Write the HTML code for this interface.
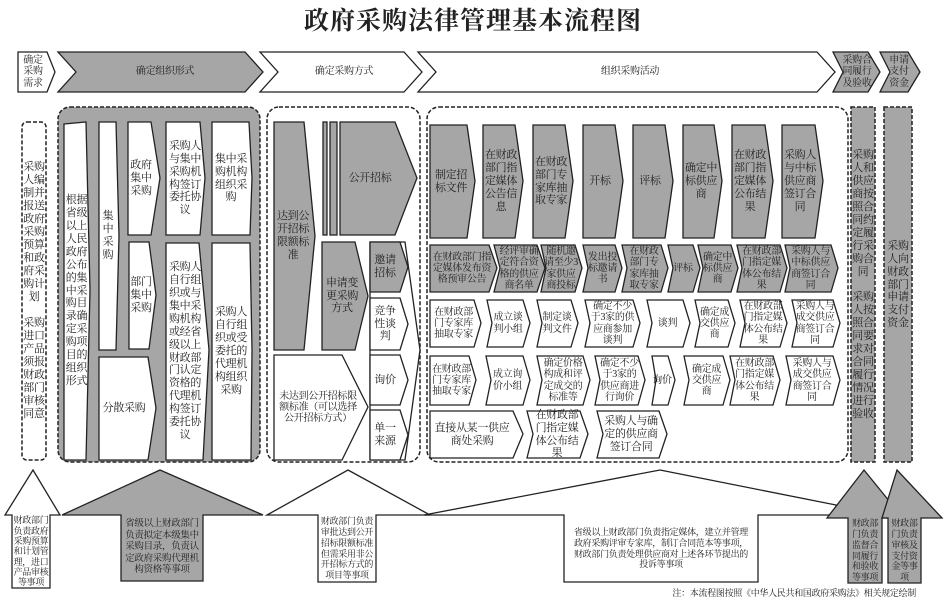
<!DOCTYPE html>
<html><head><meta charset="utf-8">
<style>
body{margin:0;width:946px;height:608px;background:#fff;position:relative;overflow:hidden;font-family:"Liberation Serif","Noto Serif CJK SC","Noto Sans CJK SC",serif;color:#222}
svg{position:absolute;left:0;top:0}
.t{position:absolute;display:flex;align-items:center;justify-content:center;text-align:center;font-size:11px;line-height:1.18;color:#222;word-break:break-all;letter-spacing:-0.3px}
.s{font-size:10px;line-height:1.12}
.x{font-size:9px;line-height:1.22}
</style></head><body>
<svg width="946" height="608" viewBox="0 0 946 608">
<g stroke="#222" stroke-width="1.3" stroke-linejoin="miter">
<polygon fill="#fff" points="18,52 47,52 55,72 47,92 18,92"/>
<polygon fill="#a6a6a6" points="58,52 245,52 263,72 245,92 58,92 76,72"/>
<polygon fill="#fff" points="260,52 404,52 422,72 404,92 260,92 278,72"/>
<polygon fill="#fff" points="418,52 817,52 835,72 817,92 418,92 436,72"/>
<polygon fill="#a6a6a6" points="833,52 868,52 880,72 868,92 833,92 843,72"/>
<polygon fill="#a6a6a6" points="880,52 908,52 920,72 908,92 880,92 890,72"/>
</g>
<g fill="none" stroke="#222" stroke-width="1.5" stroke-dasharray="4,2">
<rect x="22" y="122" width="24" height="338" rx="5"/>
<rect x="58" y="107" width="202" height="355" rx="12" fill="#a6a6a6"/>
<rect x="267" y="107" width="153" height="355" rx="12"/>
<rect x="427" y="107" width="421" height="355" rx="12"/>
<rect x="851" y="107" width="24" height="355" fill="#a6a6a6"/>
<rect x="884" y="107" width="28" height="355" fill="#a6a6a6"/>
</g>
<g stroke="#222" stroke-width="1.3">
<polygon fill="#fff" points="64,124 86,122 90,290 86,460 64,460"/>
<polygon fill="#fff" points="99,122 116,122 119,236 116,350 99,350"/>
<polygon fill="#fff" points="99,357 148,357 156,408 148,460 99,460"/>
<polygon fill="#fff" points="128,122 151,122 160,178 151,235 128,235"/>
<polygon fill="#fff" points="129,242 149,242 156,295 149,349 129,349"/>
<polygon fill="#fff" points="166,122 200,122 205,178 200,235 166,235"/>
<polygon fill="#fff" points="166,243 199,243 209,350 203,460 166,460"/>
<polygon fill="#fff" points="212,122 249,122 252,178 250,235 212,235"/>
<polygon fill="#fff" points="212,243 250,243 252,350 251,460 212,460"/>
<polygon fill="#a6a6a6" points="274,122 304,122 315,236 304,350 274,350"/>
<rect x="323" y="122" width="4" height="113" fill="#a6a6a6"/>
<rect x="330" y="122" width="7" height="113" fill="#a6a6a6"/>
<polygon fill="#a6a6a6" points="340,122 395,122 417,178 395,235 340,235"/>
<polygon fill="#a6a6a6" points="322,242 355,242 368,296 355,350 322,350"/>
<polygon fill="#fff" points="370,242 405,242 420,350 405,460 370,460"/>
<polygon fill="#a6a6a6" points="370,242 400,242 408,267 400,292 370,292"/>
<polygon fill="#fff" points="370,298 400,298 408,324 400,350 370,350"/>
<polygon fill="#fff" points="370,355 400,355 408,380 400,405 370,405"/>
<polygon fill="#fff" points="370,410 400,410 408,435 400,460 370,460"/>
<polygon fill="#fff" points="274,355 342,355 368,407 342,460 274,460"/>
<g fill="#a6a6a6">
<polygon points="430,125 467,125 475,181 467,238 430,238"/>
<polygon points="483,125 515,125 523,181 515,238 483,238"/>
<polygon points="533,125 565,125 573,181 565,238 533,238"/>
<polygon points="583,125 615,125 623,181 615,238 583,238"/>
<polygon points="633,125 665,125 673,181 665,238 633,238"/>
<polygon points="683,125 714,125 722,181 714,238 683,238"/>
<polygon points="732,125 765,125 773,181 765,238 732,238"/>
<polygon points="782,125 815,125 823,181 815,238 782,238"/>
<polygon points="430,245 489,245 497,268 489,292 430,292"/>
<polygon points="494,245 537,245 545,268 537,292 494,292 500,268"/>
<polygon points="541,245 575,245 582,268 575,292 541,292 546,268"/>
<polygon points="583,245 615,245 622,268 615,292 583,292 588,268"/>
<polygon points="622,245 661,245 668,268 661,292 622,292 627,268"/>
<polygon points="668,245 693,245 700,268 693,292 668,292 673,268"/>
<polygon points="698,245 731,245 738,268 731,292 698,292 703,268"/>
<polygon points="737,245 780,245 787,268 780,292 737,292 742,268"/>
<polygon points="785,245 831,245 838,268 831,292 785,292 790,268"/>
</g>
<g fill="#fff">
<polygon points="430,300 474,300 481,323 474,347 430,347"/>
<polygon points="487,300 523,300 530,323 523,347 487,347 492,323"/>
<polygon points="537,300 571,300 578,323 571,347 537,347 542,323"/>
<polygon points="585,300 633,300 640,323 633,347 585,347 590,323"/>
<polygon points="647,300 683,300 690,323 683,347 647,347 652,323"/>
<polygon points="695,300 728,300 735,323 728,347 695,347 700,323"/>
<polygon points="740,300 780,300 787,323 780,347 740,347 745,323"/>
<polygon points="792,300 833,300 840,323 833,347 792,347 797,323"/>
<polygon points="430,356 469,356 476,380 469,405 430,405"/>
<polygon points="486,356 523,356 530,380 523,405 486,405 491,380"/>
<polygon points="537,356 583,356 590,380 583,405 537,405 542,380"/>
<polygon points="595,356 638,356 645,380 638,405 595,405 600,380"/>
<polygon points="652,356 668,356 675,380 668,405 652,405 656,380"/>
<polygon points="684,356 723,356 730,380 723,405 684,405 689,380"/>
<polygon points="730,356 773,356 780,380 773,405 730,405 735,380"/>
<polygon points="786,356 833,356 840,380 833,405 786,405 791,380"/>
<polygon points="430,411 513,411 523,434 513,458 430,458"/>
<polygon points="527,411 580,411 588,434 580,458 527,458 533,434"/>
<polygon points="597,411 659,411 667,434 659,458 597,458 603,434"/>
</g>
<polygon fill="#fff" points="33,470 60,515 50,515 50,588 12,588 12,515 5,515"/>
<polygon fill="#a6a6a6" points="160,470 263,515 203,515 203,581 121,581 121,515 62,515"/>
<polygon fill="#fff" points="348,470 430,515 376,515 376,582 318,582 318,515 267,515"/>
<polygon fill="#fff" points="660,470 836,505 836,515 758,515 758,582 564,582 564,515 424,515"/>
<polygon fill="#a6a6a6" points="864,470 903,518 882,518 882,583 848,583 848,518 827,518"/>
<polygon fill="#a6a6a6" points="897,470 942,518 921,518 921,583 888,583 888,518 882,518"/>
</g>
</svg>
<div class="t" style="left:0;top:4px;width:946px;height:36px;font-size:25px;font-weight:bold;letter-spacing:1px">政府采购法律管理基本流程图</div>
<div class="t s" style="left:18px;top:52px;width:30px;height:40px"><span>确定<br>采购<br>需求</span></div>
<div class="t s" style="left:80px;top:52px;width:170px;height:40px">确定组织形式</div>
<div class="t s" style="left:280px;top:52px;width:128px;height:40px">确定采购方式</div>
<div class="t s" style="left:440px;top:52px;width:380px;height:40px">组织采购活动</div>
<div class="t s" style="left:840px;top:52px;width:34px;height:40px"><span>采购合<br>同履行<br>及验收</span></div>
<div class="t s" style="left:886px;top:52px;width:26px;height:40px"><span>申请<br>支付<br>资金</span></div>

<div class="t" style="left:21px;top:124px;width:26px;height:334px">采购人编制并报送政府采购预算和政府采购计划<br><br>采购进口产品须报财政部门审核同意</div>
<div class="t" style="left:63px;top:124px;width:27px;height:334px">根据省级以上人民政府公布的集中采购目录确定采购项目的组织形式</div>
<div class="t" style="left:98px;top:122px;width:20px;height:228px">集中采购</div>
<div class="t" style="left:100px;top:357px;width:48px;height:103px">分散采购</div>
<div class="t" style="left:127px;top:122px;width:28px;height:113px">政府集中采购</div>
<div class="t" style="left:128px;top:242px;width:26px;height:107px">部门集中采购</div>
<div class="t" style="left:165px;top:122px;width:40px;height:113px">采购人与集中采购机构签订委托协议</div>
<div class="t" style="left:165px;top:243px;width:40px;height:217px">采购人自行组织或与集中采购机构或经省级以上财政部门认定资格的代理机构签订委托协议</div>
<div class="t" style="left:211px;top:122px;width:40px;height:113px">集中采购机构组织采购</div>
<div class="t" style="left:211px;top:243px;width:40px;height:217px">采购人自行组织或受委托的代理机构组织采购</div>

<div class="t" style="left:274px;top:122px;width:38px;height:228px">达到公开招标限额标准</div>
<div class="t" style="left:340px;top:122px;width:60px;height:113px">公开招标</div>
<div class="t" style="left:322px;top:242px;width:40px;height:108px">申请变更采购方式</div>
<div class="t" style="left:370px;top:242px;width:30px;height:50px">邀请招标</div>
<div class="t" style="left:370px;top:298px;width:30px;height:52px">竞争性谈判</div>
<div class="t" style="left:370px;top:355px;width:30px;height:50px">询价</div>
<div class="t" style="left:370px;top:410px;width:30px;height:50px">单一来源</div>
<div class="t s" style="left:275px;top:355px;width:86px;height:105px">未达到公开招标限额标准（可以选择公开招标方式）</div>

<div class="t" style="left:430px;top:125px;width:42px;height:113px">制定招标文件</div>
<div class="t" style="left:482px;top:125px;width:38px;height:113px">在财政部门指定媒体公告信息</div>
<div class="t" style="left:532px;top:125px;width:38px;height:113px">在财政部门专家库抽取专家</div>
<div class="t" style="left:584px;top:125px;width:32px;height:113px">开标</div>
<div class="t" style="left:634px;top:125px;width:32px;height:113px">评标</div>
<div class="t" style="left:682px;top:125px;width:38px;height:113px">确定中标供应商</div>
<div class="t" style="left:731px;top:125px;width:38px;height:113px">在财政部门指定媒体公布结果</div>
<div class="t" style="left:781px;top:125px;width:38px;height:113px">采购人与中标供应商签订合同</div>

<div class="t s" style="left:431px;top:245px;width:62px;height:47px">在财政部门指定媒体发布资格预审公告</div>
<div class="t s" style="left:499px;top:245px;width:40px;height:47px">经评审确定符合资格的供应商名单</div>
<div class="t s" style="left:544px;top:245px;width:34px;height:47px">随机邀请至少3家供应商投标</div>
<div class="t s" style="left:587px;top:245px;width:31px;height:47px">发出投标邀请书</div>
<div class="t s" style="left:625px;top:245px;width:38px;height:47px">在财政部门专家库抽取专家</div>
<div class="t s" style="left:671px;top:245px;width:24px;height:47px">评标</div>
<div class="t s" style="left:701px;top:245px;width:33px;height:47px">确定中标供应商</div>
<div class="t s" style="left:740px;top:245px;width:43px;height:47px">在财政部门指定媒体公布结果</div>
<div class="t s" style="left:788px;top:245px;width:45px;height:47px">采购人与中标供应商签订合同</div>

<div class="t s" style="left:431px;top:300px;width:45px;height:47px">在财政部门专家库抽取专家</div>
<div class="t s" style="left:490px;top:300px;width:36px;height:47px">成立谈判小组</div>
<div class="t s" style="left:540px;top:300px;width:34px;height:47px">制定谈判文件</div>
<div class="t s" style="left:589px;top:300px;width:47px;height:47px">确定不少于3家的供应商参加谈判</div>
<div class="t s" style="left:651px;top:300px;width:33px;height:47px">谈判</div>
<div class="t s" style="left:698px;top:300px;width:33px;height:47px">确定成交供应商</div>
<div class="t s" style="left:743px;top:300px;width:40px;height:47px">在财政部门指定媒体公布结果</div>
<div class="t s" style="left:795px;top:300px;width:40px;height:47px">采购人与成交供应商签订合同</div>

<div class="t s" style="left:431px;top:356px;width:41px;height:49px">在财政部门专家库抽取专家</div>
<div class="t s" style="left:490px;top:356px;width:35px;height:49px">成立询价小组</div>
<div class="t s" style="left:540px;top:356px;width:46px;height:49px">确定价格构成和评定成交的标准等</div>
<div class="t s" style="left:598px;top:356px;width:43px;height:49px">确定不少于3家的供应商进行询价</div>
<div class="t s" style="left:652px;top:356px;width:20px;height:49px">询价</div>
<div class="t s" style="left:688px;top:356px;width:37px;height:49px">确定成交供应商</div>
<div class="t s" style="left:733px;top:356px;width:43px;height:49px">在财政部门指定媒体公布结果</div>
<div class="t s" style="left:789px;top:356px;width:46px;height:49px">采购人与成交供应商签订合同</div>

<div class="t" style="left:432px;top:411px;width:80px;height:47px">直接从某一供应商处采购</div>
<div class="t" style="left:531px;top:411px;width:52px;height:47px">在财政部门指定媒体公布结果</div>
<div class="t" style="left:601px;top:411px;width:60px;height:47px">采购人与确定的供应商签订合同</div>

<div class="t" style="left:850px;top:110px;width:26px;height:350px">采购人和供应商按照合同约定履行采购合同<br><br>采购人按照合同要求对合同履行情况进行验收</div>
<div class="t" style="left:885px;top:110px;width:26px;height:350px">采购人向财政部门申请支付资金</div>

<div class="t x" style="left:12px;top:515px;width:38px;height:73px;line-height:1.15">财政部门负责政府采购预算和计划管理，进口产品审核等事项</div>
<div class="t x" style="left:124px;top:515px;width:76px;height:66px;font-size:9.5px">省级以上财政部门负责拟定本级集中采购目录，负责认定政府采购代理机构资格等事项</div>
<div class="t x" style="left:320px;top:515px;width:54px;height:67px">财政部门负责审批达到公开招标限额标准但需采用非公开招标方式的项目等事项</div>
<div class="t x" style="left:570px;top:515px;width:182px;height:67px">省级以上财政部门负责指定媒体，建立并管理政府采购评审专家库，制订合同范本等事项，财政部门负责处理供应商对上述各环节提出的投诉等事项</div>
<div class="t x" style="left:848px;top:518px;width:34px;height:65px">财政部门负责监督合同履行和验收等事项</div>
<div class="t x" style="left:888px;top:518px;width:33px;height:65px">财政部门负责审核及支付资金等事项</div>
<div class="t x" style="left:600px;top:586px;width:316px;height:14px;justify-content:flex-end">注：本流程图按照《中华人民共和国政府采购法》相关规定绘制</div>
</body></html>
